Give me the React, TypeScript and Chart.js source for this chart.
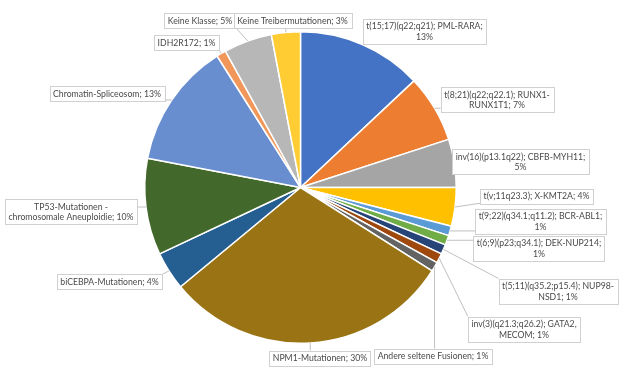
import React, { useEffect, useRef } from "react";
import { Chart, registerables } from "chart.js";
Chart.register(...registerables);

const categories = [
  "t(15;17)(q22;q21); PML-RARA",
  "t(8;21)(q22;q22.1); RUNX1-RUNX1T1",
  "inv(16)(p13.1q22); CBFB-MYH11",
  "t(v;11q23.3); X-KMT2A",
  "t(9;22)(q34.1;q11.2); BCR-ABL1",
  "t(6;9)(p23;q34.1); DEK-NUP214",
  "t(5;11)(q35.2;p15.4); NUP98-NSD1",
  "inv(3)(q21.3;q26.2); GATA2, MECOM",
  "Andere seltene Fusionen",
  "NPM1-Mutationen",
  "biCEBPA-Mutationen",
  "TP53-Mutationen - chromosomale Aneuploidie",
  "Chromatin-Spliceosom",
  "IDH2R172",
  "Keine Klasse",
  "Keine Treibermutationen",
];

const values = [13, 7, 5, 4, 1, 1, 1, 1, 1, 30, 4, 10, 13, 1, 5, 3];

const colors = [
  "#4472C4", "#ED7D31", "#A5A5A5", "#FFC000", "#5B9BD5", "#70AD47",
  "#264478", "#9E480E", "#636363", "#9A7414", "#255E91", "#43682B",
  "#698ED0", "#F1975A", "#B7B7B7", "#FFCD33",
];

// label box centres and line-break tokens (layout only)
const labelLayout: { cx: number; cy: number; brk?: string }[] = [
  { cx: 424.5, cy: 31, brk: "PML-RARA;" },
  { cx: 497, cy: 99.5, brk: "RUNX1-" },
  { cx: 520.5, cy: 161.5, brk: "CBFB-MYH11;" },
  { cx: 536.5, cy: 196 },
  { cx: 540.5, cy: 221, brk: "BCR-ABL1;" },
  { cx: 539, cy: 248, brk: "DEK-NUP214;" },
  { cx: 558, cy: 291, brk: "NUP98-" },
  { cx: 524, cy: 329, brk: "GATA2," },
  { cx: 433, cy: 356 },
  { cx: 320, cy: 358 },
  { cx: 109.5, cy: 281.5 },
  { cx: 71, cy: 211.5, brk: "Mutationen -" },
  { cx: 107, cy: 93.5 },
  { cx: 186.5, cy: 42.5 },
  { cx: 200, cy: 20.5 },
  { cx: 292.5, cy: 20.5 },
];

const FONT = "8.7px Lato";
const LINE_H = 10.5;
const PAD_X = 3.5;
const PAD_Y = 2;

function labelLines(i: number): string[] {
  const text = `${categories[i]}; ${values[i]}%`;
  const brk = labelLayout[i].brk;
  if (!brk) return [text];
  const idx = text.indexOf(brk) + brk.length;
  return [text.slice(0, idx).trimEnd(), text.slice(idx).trimStart()];
}

const calloutPlugin = {
  id: "callouts",
  afterDatasetsDraw(chart: any) {
    const ctx: CanvasRenderingContext2D = chart.ctx;
    const meta = chart.getDatasetMeta(0);
    ctx.save();
    ctx.font = FONT;
    meta.data.forEach((arc: any, i: number) => {
      const { x, y, startAngle, endAngle, outerRadius } = arc.getProps(
        ["x", "y", "startAngle", "endAngle", "outerRadius"],
        true
      );
      const mid = (startAngle + endAngle) / 2;
      const ax = x + Math.cos(mid) * outerRadius;
      const ay = y + Math.sin(mid) * outerRadius;
      const lines = labelLines(i);
      const w = Math.max(...lines.map((l) => ctx.measureText(l).width)) + PAD_X * 2;
      const h = lines.length * LINE_H + PAD_Y * 2;
      const { cx, cy } = labelLayout[i];
      const bx = cx - w / 2;
      const by = cy - h / 2;
      const nx = Math.min(Math.max(ax, bx), bx + w);
      const ny = Math.min(Math.max(ay, by), by + h);
      const d = Math.hypot(nx - ax, ny - ay);
      if (d > 3) {
        ctx.strokeStyle = "#B0B0B0";
        ctx.lineWidth = 0.8;
        ctx.beginPath();
        ctx.moveTo(ax, ay);
        ctx.lineTo(nx, ny);
        ctx.stroke();
      }
      ctx.fillStyle = "#FFFFFF";
      ctx.fillRect(bx, by, w, h);
      ctx.strokeStyle = "#D0D0D0";
      ctx.lineWidth = 1;
      ctx.strokeRect(Math.round(bx) + 0.5, Math.round(by) + 0.5, Math.round(w), Math.round(h));
      ctx.fillStyle = "#4A4A4A";
      ctx.textAlign = "center";
      ctx.textBaseline = "middle";
      lines.forEach((l, k) => {
        ctx.fillText(l, cx, by + PAD_Y + LINE_H * (k + 0.5) + 0.5);
      });
    });
    ctx.restore();
  },
};

export default function App() {
  const ref = useRef<HTMLCanvasElement>(null);
  useEffect(() => {
    if (!ref.current) return;
    const chart = new Chart(ref.current, {
      type: "pie",
      data: {
        labels: categories,
        datasets: [
          {
            data: values,
            backgroundColor: colors,
            borderColor: "#FFFFFF",
            borderWidth: 1.5,
          },
        ],
      },
      options: {
        responsive: false,
        animation: false,
        layout: { padding: { left: 144, right: 163, top: 31, bottom: 34 } },
        plugins: {
          legend: { display: false },
          tooltip: { enabled: false },
        },
      },
      plugins: [calloutPlugin],
    });
    return () => chart.destroy();
  }, []);
  return (
    <div style={{ position: "fixed", left: 0, top: 0, width: 620, height: 378, background: "#fff" }}>
      <canvas ref={ref} width={620} height={378} />
    </div>
  );
}
